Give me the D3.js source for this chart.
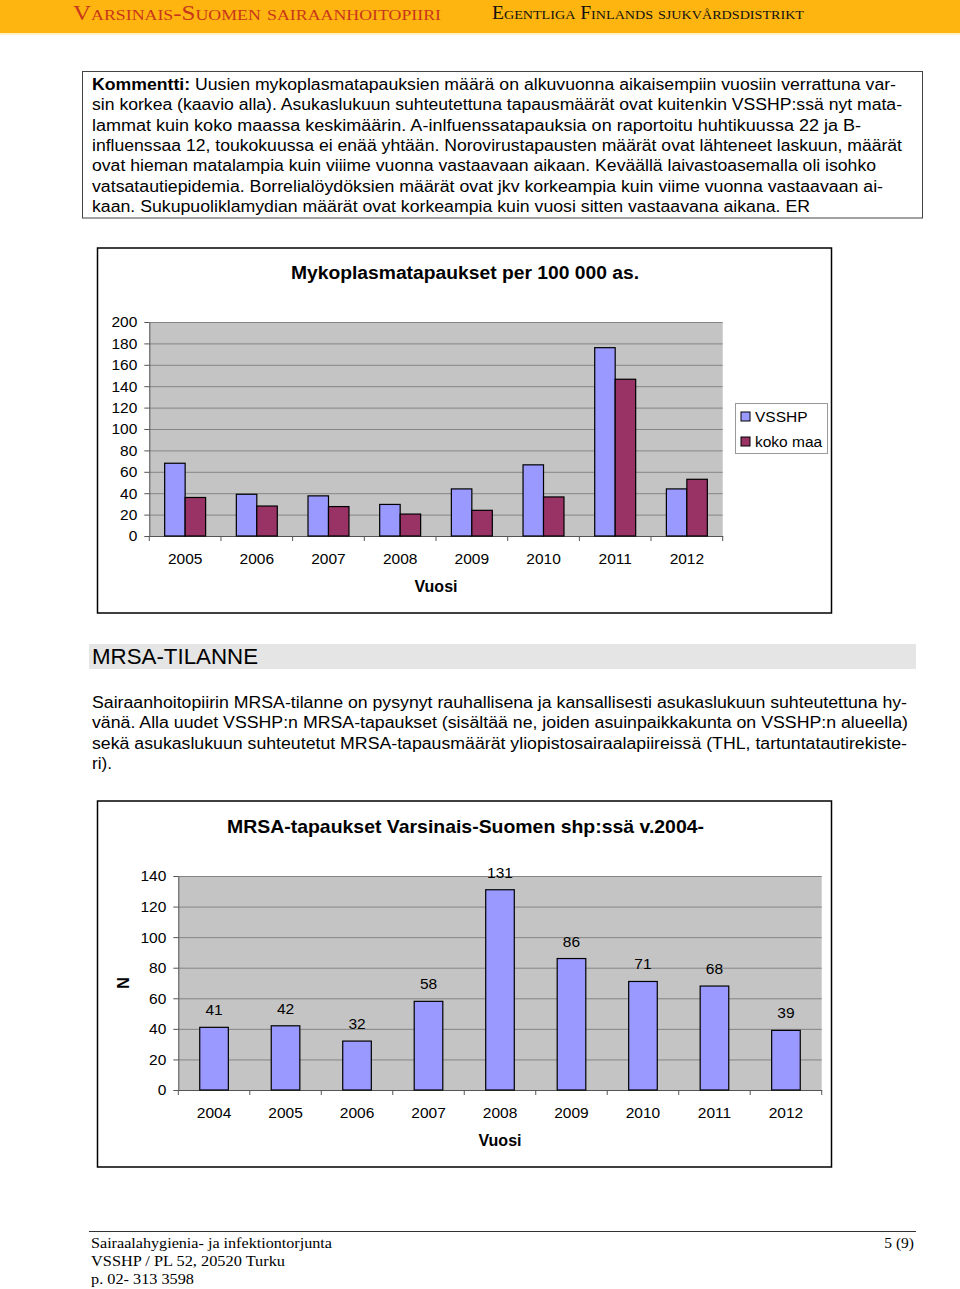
<!DOCTYPE html>
<html><head><meta charset="utf-8">
<script src="https://cdn.jsdelivr.net/npm/d3@7"></script>
<style>
html,body{margin:0;padding:0;background:#fff;}
svg{display:block;font-family:"Liberation Sans",Arial,sans-serif;}
</style></head>
<body>
<svg id="page" width="960" height="1289"></svg>
<script>
// ---------- data ----------
const myko_years = ["2005","2006","2007","2008","2009","2010","2011","2012"];
const myko_series = ["VSSHP","koko maa"];
const myko_vsshp = [68, 39, 37.5, 29.5, 44, 66.5, 176, 44];
const myko_koko  = [36, 28, 27.5, 20.5, 24, 36.5, 146.5, 53];
const myko_ticks = [0,20,40,60,80,100,120,140,160,180,200];

const mrsa_years = ["2004","2005","2006","2007","2008","2009","2010","2011","2012"];
const mrsa_values = [41, 42, 32, 58, 131, 86, 71, 68, 39];
const mrsa_ticks = [0,20,40,60,80,100,120,140];

const comment_lines = [
  "Uusien mykoplasmatapauksien määrä on alkuvuonna aikaisempiin vuosiin verrattuna var-",
  "sin korkea (kaavio alla). Asukaslukuun suhteutettuna tapausmäärät ovat kuitenkin VSSHP:ssä nyt mata-",
  "lammat kuin koko maassa keskimäärin. A-inlfuenssatapauksia on raportoitu huhtikuussa 22 ja B-",
  "influenssaa 12, toukokuussa ei enää yhtään. Norovirustapausten määrät ovat lähteneet laskuun, määrät",
  "ovat hieman matalampia kuin viiime vuonna vastaavaan aikaan. Keväällä laivastoasemalla oli isohko",
  "vatsatautiepidemia. Borrelialöydöksien määrät ovat jkv korkeampia kuin viime vuonna vastaavaan ai-",
  "kaan. Sukupuoliklamydian määrät ovat korkeampia kuin vuosi sitten vastaavana aikana. ER"
];
const mrsa_lines = [
  "Sairaanhoitopiirin MRSA-tilanne on pysynyt rauhallisena ja kansallisesti asukaslukuun suhteutettuna hy-",
  "vänä. Alla uudet VSSHP:n MRSA-tapaukset (sisältää ne, joiden asuinpaikkakunta on VSSHP:n alueella)",
  "sekä asukaslukuun suhteutetut MRSA-tapausmäärät yliopistosairaalapiireissä (THL, tartuntatautirekiste-",
  "ri)."
];
const footer_lines = ["Sairaalahygienia- ja infektiontorjunta","VSSHP / PL 52, 20520 Turku","p. 02- 313 3598"];

// ---------- page ----------
const svg = d3.select("#page");

// header
svg.append("rect").attr("x",0).attr("y",0).attr("width",960).attr("height",33).attr("fill","#FFB50F");
svg.append("rect").attr("x",0).attr("y",33).attr("width",960).attr("height",2).attr("fill","#FFF1C8");
svg.append("text").attr("x",73).attr("y",19.5)
  .attr("font-family","'Liberation Serif','Times New Roman',serif").attr("font-size",21)
  .style("font-variant","small-caps").attr("fill","#C8371C")
  .attr("textLength",368).attr("lengthAdjust","spacingAndGlyphs")
  .text("Varsinais-Suomen sairaanhoitopiiri");
svg.append("text").attr("x",492).attr("y",18.5)
  .attr("font-family","'Liberation Serif','Times New Roman',serif").attr("font-size",18)
  .style("font-variant","small-caps").attr("fill","#111")
  .attr("textLength",312).attr("lengthAdjust","spacingAndGlyphs")
  .text("Egentliga Finlands sjukvårdsdistrikt");

// comment box
svg.append("rect").attr("x",82.5).attr("y",71.5).attr("width",840).attr("height",146.5)
  .attr("fill","none").attr("stroke","#444").attr("stroke-width",1);
const commentEnds = [896, 902, 861, 902, 876, 883, 810];
comment_lines.forEach((line,i)=>{
  const t = svg.append("text").attr("x",92).attr("y",90 + i*20.35).attr("font-size",16).attr("fill","#000")
    .attr("textLength",commentEnds[i]-92).attr("lengthAdjust","spacingAndGlyphs");
  if(i===0){
    t.append("tspan").attr("font-weight","bold").text("Kommentti: ");
    t.append("tspan").text(line);
  } else t.text(line);
});

// ---------- chart 1 ----------
function chartBox(y0,y1){
  svg.append("rect").attr("x",97.5).attr("y",y0).attr("width",734).attr("height",y1-y0)
    .attr("fill","#fff").attr("stroke","#000").attr("stroke-width",1.5);
}
chartBox(248,613);
svg.append("text").attr("x",465).attr("y",279).attr("text-anchor","middle").attr("font-weight","bold")
  .attr("font-size",18).attr("textLength",348).attr("lengthAdjust","spacingAndGlyphs")
  .text("Mykoplasmatapaukset per 100 000 as.");

const c1 = {l:149.3, r:722.7, t:322, b:536};
const x0 = d3.scaleBand().domain(myko_years).range([c1.l,c1.r]).padding(0);
const x1 = d3.scaleBand().domain(myko_series).range([0,x0.bandwidth()]).paddingInner(0).paddingOuter(0.75);
const y1s = d3.scaleLinear().domain([0,200]).range([c1.b,c1.t]);
const colors = {"VSSHP":"#9999FF","koko maa":"#993366"};

function plotArea(c, y, ticks, x){
  svg.append("rect").attr("x",c.l).attr("y",c.t).attr("width",c.r-c.l).attr("height",c.b-c.t).attr("fill","#C4C4C4");
  const g = svg.append("g").attr("transform",`translate(${c.l},0)`)
    .call(d3.axisLeft(y).tickValues(ticks).tickSize(-(c.r-c.l)).tickFormat(""));
  g.select(".domain").remove();
  g.selectAll("line").attr("stroke","#858585").attr("stroke-width",1);
  const ya = svg.append("g").attr("transform",`translate(${c.l},0)`)
    .call(d3.axisLeft(y).tickValues(ticks).tickSize(5).tickPadding(7).tickSizeOuter(0));
  ya.select(".domain").attr("stroke","#555");
  ya.selectAll("line").attr("stroke","#555");
  ya.selectAll("text").attr("font-size",15.5).attr("fill","#000").attr("font-family","'Liberation Sans',Arial,sans-serif");
  // x axis
  const xa = svg.append("g").attr("transform",`translate(0,${c.b})`)
    .call(d3.axisBottom(x).tickSize(0).tickPadding(17));
  xa.select(".domain").attr("stroke","#555");
  xa.selectAll("text").attr("font-size",15.5).attr("fill","#000").attr("font-family","'Liberation Sans',Arial,sans-serif");
  const bounds = x.domain().map(d=>x(d) - x.step()*x.paddingOuter()).concat([x.range()[1]]);
  svg.append("g").selectAll("line").data(bounds).join("line")
    .attr("x1",d=>d).attr("x2",d=>d).attr("y1",c.b).attr("y2",c.b+5).attr("stroke","#555");
}
plotArea(c1, y1s, myko_ticks, x0);

const rows1 = myko_years.map((yr,i)=>({yr, vals:[{s:"VSSHP",v:myko_vsshp[i]},{s:"koko maa",v:myko_koko[i]}]}));
svg.append("g").selectAll("g").data(rows1).join("g")
  .attr("transform",d=>`translate(${x0(d.yr)},0)`)
  .selectAll("rect").data(d=>d.vals).join("rect")
  .attr("x",d=>x1(d.s)).attr("width",x1.bandwidth())
  .attr("y",d=>y1s(d.v)).attr("height",d=>y1s(0)-y1s(d.v))
  .attr("fill",d=>colors[d.s]).attr("stroke","#000").attr("stroke-width",1.2);

svg.append("text").attr("x",436).attr("y",592).attr("text-anchor","middle").attr("font-weight","bold")
  .attr("font-size",16).text("Vuosi");

// legend
svg.append("rect").attr("x",735.5).attr("y",403.5).attr("width",92).attr("height",50)
  .attr("fill","#fff").attr("stroke","#999");
const lg = svg.append("g").selectAll("g").data(myko_series).join("g")
  .attr("transform",(d,i)=>`translate(741,${416 + i*25})`);
lg.append("rect").attr("x",0).attr("y",-4).attr("width",9).attr("height",9)
  .attr("fill",d=>colors[d]).attr("stroke","#000").attr("stroke-width",1);
lg.append("text").attr("x",14).attr("y",6).attr("font-size",15.5).text(d=>d);

// ---------- MRSA section ----------
svg.append("rect").attr("x",89).attr("y",644).attr("width",827).attr("height",25).attr("fill","#E5E5E5");
svg.append("text").attr("x",92).attr("y",664).attr("font-size",21.5).attr("textLength",166)
  .attr("lengthAdjust","spacingAndGlyphs").text("MRSA-TILANNE");
const mrsaEnds = [907, 908, 907, 112];
mrsa_lines.forEach((line,i)=>{
  svg.append("text").attr("x",92).attr("y",708 + i*20.35).attr("font-size",16)
    .attr("textLength",mrsaEnds[i]-92).attr("lengthAdjust","spacingAndGlyphs").text(line);
});

// ---------- chart 2 ----------
chartBox(801,1167);
svg.append("text").attr("x",465.5).attr("y",833).attr("text-anchor","middle").attr("font-weight","bold")
  .attr("font-size",19).attr("textLength",477).attr("lengthAdjust","spacingAndGlyphs")
  .text("MRSA-tapaukset Varsinais-Suomen shp:ssä v.2004-");

const c2 = {l:178.3, r:821.7, t:876, b:1090};
const xb = d3.scaleBand().domain(mrsa_years).range([c2.l,c2.r]).paddingInner(0.6).paddingOuter(0.3);
const y2s = d3.scaleLinear().domain([0,140]).range([c2.b,c2.t]);
plotArea(c2, y2s, mrsa_ticks, xb);

const rows2 = mrsa_years.map((yr,i)=>({yr, v:mrsa_values[i]}));
svg.append("g").selectAll("rect").data(rows2).join("rect")
  .attr("x",d=>xb(d.yr)).attr("width",xb.bandwidth())
  .attr("y",d=>y2s(d.v)).attr("height",d=>y2s(0)-y2s(d.v))
  .attr("fill","#9999FF").attr("stroke","#000").attr("stroke-width",1.2);
svg.append("g").selectAll("text").data(rows2).join("text")
  .attr("x",d=>xb(d.yr)+xb.bandwidth()/2).attr("y",d=>y2s(d.v)-12)
  .attr("text-anchor","middle").attr("font-size",15.5).text(d=>d.v);

svg.append("text").attr("transform","translate(129,983) rotate(-90)").attr("text-anchor","middle")
  .attr("font-weight","bold").attr("font-size",16).text("N");
svg.append("text").attr("x",500).attr("y",1146).attr("text-anchor","middle").attr("font-weight","bold")
  .attr("font-size",16).text("Vuosi");

// ---------- footer ----------
svg.append("line").attr("x1",89).attr("x2",916).attr("y1",1231.5).attr("y2",1231.5).attr("stroke","#333").attr("stroke-width",1);
const footEnds = [332, 285, 194];
footer_lines.forEach((line,i)=>{
  svg.append("text").attr("x",91).attr("y",1248 + i*18).attr("font-size",15.5)
    .attr("font-family","'Liberation Serif','Times New Roman',serif")
    .attr("textLength",footEnds[i]-91).attr("lengthAdjust","spacingAndGlyphs").text(line);
});
svg.append("text").attr("x",914).attr("y",1248).attr("text-anchor","end").attr("font-size",15.5)
  .attr("font-family","'Liberation Serif','Times New Roman',serif").text("5 (9)");
</script>
</body></html>
